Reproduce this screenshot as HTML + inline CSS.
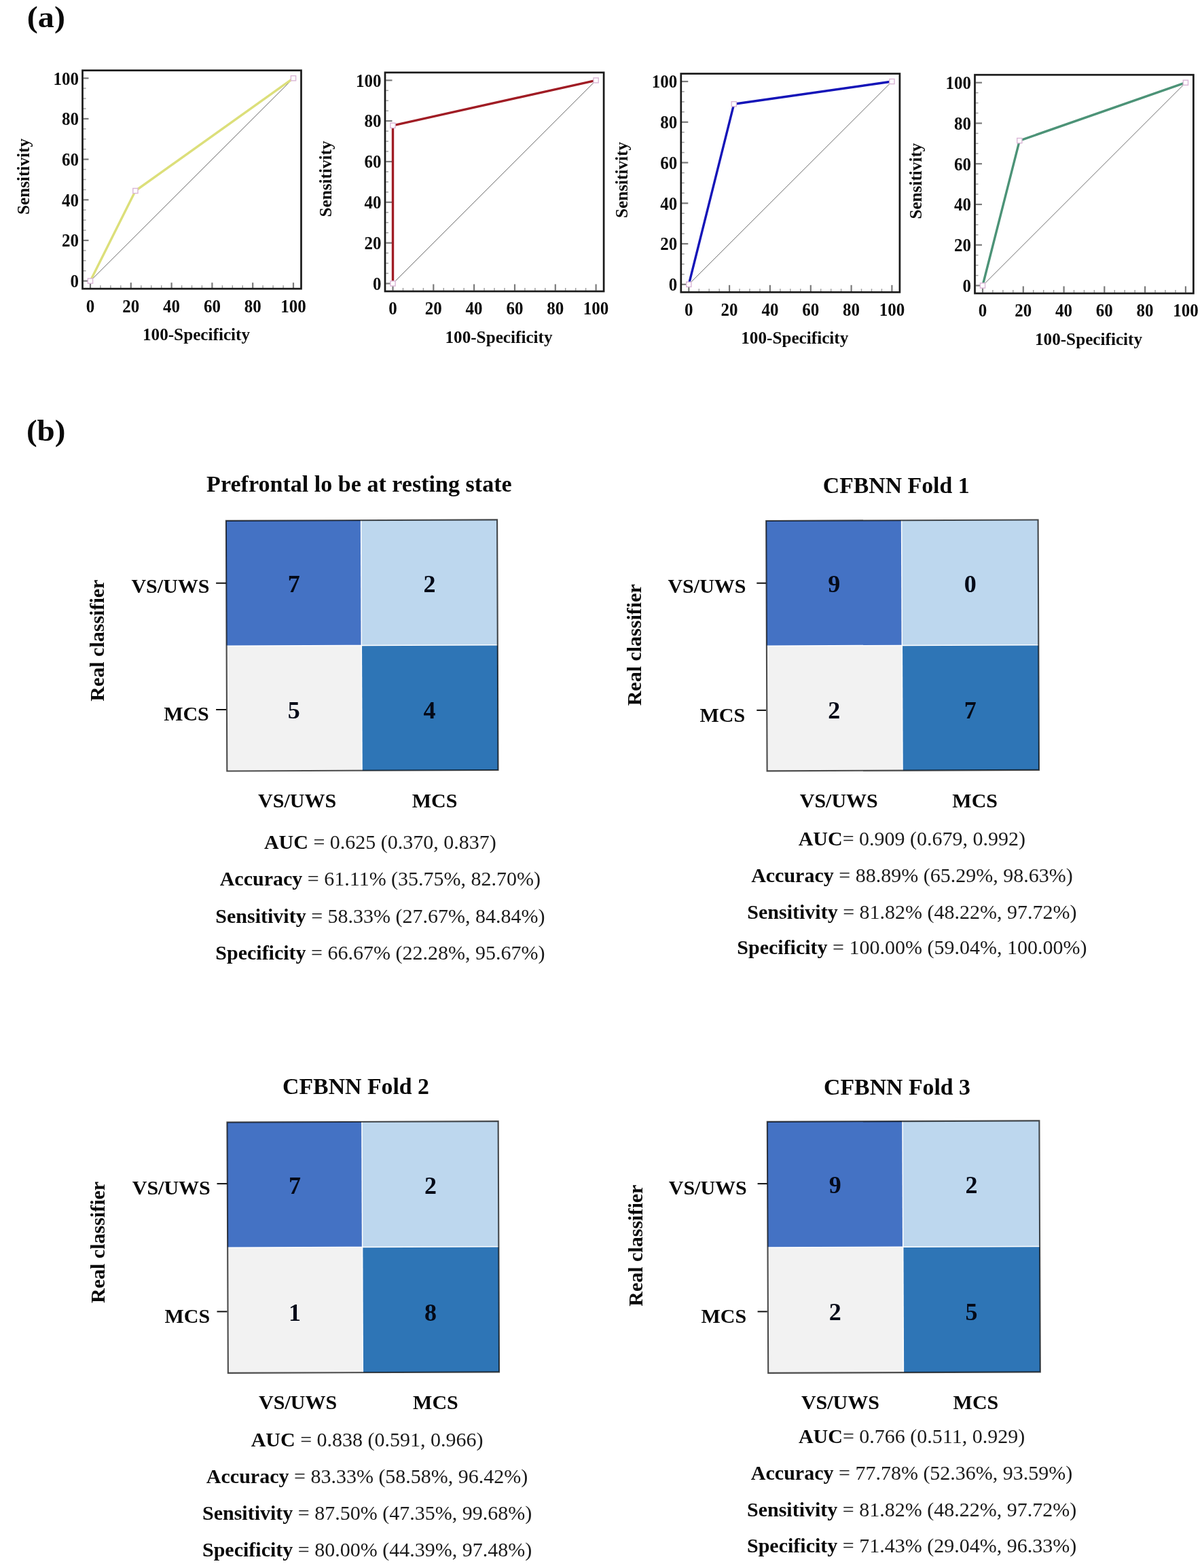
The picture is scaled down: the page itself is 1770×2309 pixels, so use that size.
<!DOCTYPE html>
<html><head><meta charset="utf-8"><title>Figure</title>
<style>
html,body{margin:0;padding:0;background:#fff;}
body{width:1770px;height:2309px;overflow:hidden;position:relative;}
svg{position:absolute;left:0;top:0;}
text{font-family:'Liberation Serif', 'Times New Roman', serif;fill:#0a0a0a;}
.tk{font-size:25px;font-weight:bold;}
.ax{font-size:25.2px;font-weight:bold;}
.num{font-size:36px;font-weight:bold;fill:#050a18;}
.lab{font-size:30px;font-weight:bold;}
.ttl{font-size:33.8px;font-weight:bold;}
.rc{font-size:30px;font-weight:bold;}
.st{font-size:30px;fill:#1a1a1a;}
.st tspan{fill:#0a0a0a;}
.pl{font-size:44px;font-weight:bold;}
</style></head>
<body>
<svg width="1770" height="2309" viewBox="0 0 1770 2309">
<text transform="translate(39.8,40) scale(1.095,1)" class="pl">(a)</text>
<text transform="translate(38.9,648.5) scale(1.07,1)" class="pl">(b)</text>
<line x1="147.9" y1="424.0" x2="147.9" y2="420.2" stroke="#a0a0a0" stroke-width="1.5"/>
<line x1="122.7" y1="398.8" x2="126.5" y2="398.8" stroke="#a0a0a0" stroke-width="1.5"/>
<line x1="162.9" y1="424.0" x2="162.9" y2="420.2" stroke="#a0a0a0" stroke-width="1.5"/>
<line x1="122.7" y1="383.8" x2="126.5" y2="383.8" stroke="#a0a0a0" stroke-width="1.5"/>
<line x1="177.8" y1="424.0" x2="177.8" y2="420.2" stroke="#a0a0a0" stroke-width="1.5"/>
<line x1="122.7" y1="368.9" x2="126.5" y2="368.9" stroke="#a0a0a0" stroke-width="1.5"/>
<line x1="207.8" y1="424.0" x2="207.8" y2="420.2" stroke="#a0a0a0" stroke-width="1.5"/>
<line x1="122.7" y1="339.1" x2="126.5" y2="339.1" stroke="#a0a0a0" stroke-width="1.5"/>
<line x1="222.7" y1="424.0" x2="222.7" y2="420.2" stroke="#a0a0a0" stroke-width="1.5"/>
<line x1="122.7" y1="324.1" x2="126.5" y2="324.1" stroke="#a0a0a0" stroke-width="1.5"/>
<line x1="237.7" y1="424.0" x2="237.7" y2="420.2" stroke="#a0a0a0" stroke-width="1.5"/>
<line x1="122.7" y1="309.2" x2="126.5" y2="309.2" stroke="#a0a0a0" stroke-width="1.5"/>
<line x1="267.6" y1="424.0" x2="267.6" y2="420.2" stroke="#a0a0a0" stroke-width="1.5"/>
<line x1="122.7" y1="279.4" x2="126.5" y2="279.4" stroke="#a0a0a0" stroke-width="1.5"/>
<line x1="282.5" y1="424.0" x2="282.5" y2="420.2" stroke="#a0a0a0" stroke-width="1.5"/>
<line x1="122.7" y1="264.4" x2="126.5" y2="264.4" stroke="#a0a0a0" stroke-width="1.5"/>
<line x1="297.4" y1="424.0" x2="297.4" y2="420.2" stroke="#a0a0a0" stroke-width="1.5"/>
<line x1="122.7" y1="249.5" x2="126.5" y2="249.5" stroke="#a0a0a0" stroke-width="1.5"/>
<line x1="327.4" y1="424.0" x2="327.4" y2="420.2" stroke="#a0a0a0" stroke-width="1.5"/>
<line x1="122.7" y1="219.7" x2="126.5" y2="219.7" stroke="#a0a0a0" stroke-width="1.5"/>
<line x1="342.3" y1="424.0" x2="342.3" y2="420.2" stroke="#a0a0a0" stroke-width="1.5"/>
<line x1="122.7" y1="204.8" x2="126.5" y2="204.8" stroke="#a0a0a0" stroke-width="1.5"/>
<line x1="357.2" y1="424.0" x2="357.2" y2="420.2" stroke="#a0a0a0" stroke-width="1.5"/>
<line x1="122.7" y1="189.8" x2="126.5" y2="189.8" stroke="#a0a0a0" stroke-width="1.5"/>
<line x1="387.1" y1="424.0" x2="387.1" y2="420.2" stroke="#a0a0a0" stroke-width="1.5"/>
<line x1="122.7" y1="160.0" x2="126.5" y2="160.0" stroke="#a0a0a0" stroke-width="1.5"/>
<line x1="402.1" y1="424.0" x2="402.1" y2="420.2" stroke="#a0a0a0" stroke-width="1.5"/>
<line x1="122.7" y1="145.1" x2="126.5" y2="145.1" stroke="#a0a0a0" stroke-width="1.5"/>
<line x1="417.1" y1="424.0" x2="417.1" y2="420.2" stroke="#a0a0a0" stroke-width="1.5"/>
<line x1="122.7" y1="130.1" x2="126.5" y2="130.1" stroke="#a0a0a0" stroke-width="1.5"/>
<line x1="133.0" y1="424.0" x2="133.0" y2="416.2" stroke="#7a7a7a" stroke-width="2.2"/>
<line x1="122.7" y1="413.7" x2="130.5" y2="413.7" stroke="#7a7a7a" stroke-width="2.2"/>
<text transform="translate(133.0,459.5) scale(1,1.05)" text-anchor="middle" class="tk">0</text>
<text transform="translate(115.9,423.0) scale(1,1.05)" text-anchor="end" class="tk">0</text>
<line x1="192.8" y1="424.0" x2="192.8" y2="416.2" stroke="#7a7a7a" stroke-width="2.2"/>
<line x1="122.7" y1="354.0" x2="130.5" y2="354.0" stroke="#7a7a7a" stroke-width="2.2"/>
<text transform="translate(192.8,459.5) scale(1,1.05)" text-anchor="middle" class="tk">20</text>
<text transform="translate(115.9,363.3) scale(1,1.05)" text-anchor="end" class="tk">20</text>
<line x1="252.6" y1="424.0" x2="252.6" y2="416.2" stroke="#7a7a7a" stroke-width="2.2"/>
<line x1="122.7" y1="294.3" x2="130.5" y2="294.3" stroke="#7a7a7a" stroke-width="2.2"/>
<text transform="translate(252.6,459.5) scale(1,1.05)" text-anchor="middle" class="tk">40</text>
<text transform="translate(115.9,303.6) scale(1,1.05)" text-anchor="end" class="tk">40</text>
<line x1="312.4" y1="424.0" x2="312.4" y2="416.2" stroke="#7a7a7a" stroke-width="2.2"/>
<line x1="122.7" y1="234.6" x2="130.5" y2="234.6" stroke="#7a7a7a" stroke-width="2.2"/>
<text transform="translate(312.4,459.5) scale(1,1.05)" text-anchor="middle" class="tk">60</text>
<text transform="translate(115.9,243.9) scale(1,1.05)" text-anchor="end" class="tk">60</text>
<line x1="372.2" y1="424.0" x2="372.2" y2="416.2" stroke="#7a7a7a" stroke-width="2.2"/>
<line x1="122.7" y1="174.9" x2="130.5" y2="174.9" stroke="#7a7a7a" stroke-width="2.2"/>
<text transform="translate(372.2,459.5) scale(1,1.05)" text-anchor="middle" class="tk">80</text>
<text transform="translate(115.9,184.2) scale(1,1.05)" text-anchor="end" class="tk">80</text>
<line x1="432.0" y1="424.0" x2="432.0" y2="416.2" stroke="#7a7a7a" stroke-width="2.2"/>
<line x1="122.7" y1="115.2" x2="130.5" y2="115.2" stroke="#7a7a7a" stroke-width="2.2"/>
<text transform="translate(432.0,459.5) scale(1,1.05)" text-anchor="middle" class="tk">100</text>
<text transform="translate(115.9,124.5) scale(1,1.05)" text-anchor="end" class="tk">100</text>
<line x1="133.0" y1="413.7" x2="432.0" y2="115.2" stroke="#6a6a6a" stroke-width="1"/>
<polyline points="133.0,413.7 199.4,281.0 432.0,115.2" fill="none" stroke="#dcdf7a" stroke-width="3.4" stroke-linejoin="round"/>
<rect x="129.4" y="410.1" width="7.2" height="7.2" fill="#fff" stroke="#dab6d6" stroke-width="1.4"/>
<rect x="195.8" y="277.4" width="7.2" height="7.2" fill="#fff" stroke="#dab6d6" stroke-width="1.4"/>
<rect x="428.4" y="111.6" width="7.2" height="7.2" fill="#fff" stroke="#dab6d6" stroke-width="1.4"/>
<rect x="121.5" y="103.7" width="322.0" height="321.5" fill="none" stroke="#1a1a1a" stroke-width="2.7"/>
<text x="289.0" y="500.7" text-anchor="middle" class="ax">100-Specificity</text>
<text transform="translate(42.5,259.9) rotate(-90)" text-anchor="middle" class="ax">Sensitivity</text>
<line x1="593.5" y1="427.8" x2="593.5" y2="424.0" stroke="#a0a0a0" stroke-width="1.5"/>
<line x1="568.2" y1="402.5" x2="572.0" y2="402.5" stroke="#a0a0a0" stroke-width="1.5"/>
<line x1="608.4" y1="427.8" x2="608.4" y2="424.0" stroke="#a0a0a0" stroke-width="1.5"/>
<line x1="568.2" y1="387.6" x2="572.0" y2="387.6" stroke="#a0a0a0" stroke-width="1.5"/>
<line x1="623.4" y1="427.8" x2="623.4" y2="424.0" stroke="#a0a0a0" stroke-width="1.5"/>
<line x1="568.2" y1="372.6" x2="572.0" y2="372.6" stroke="#a0a0a0" stroke-width="1.5"/>
<line x1="653.3" y1="427.8" x2="653.3" y2="424.0" stroke="#a0a0a0" stroke-width="1.5"/>
<line x1="568.2" y1="342.7" x2="572.0" y2="342.7" stroke="#a0a0a0" stroke-width="1.5"/>
<line x1="668.2" y1="427.8" x2="668.2" y2="424.0" stroke="#a0a0a0" stroke-width="1.5"/>
<line x1="568.2" y1="327.7" x2="572.0" y2="327.7" stroke="#a0a0a0" stroke-width="1.5"/>
<line x1="683.2" y1="427.8" x2="683.2" y2="424.0" stroke="#a0a0a0" stroke-width="1.5"/>
<line x1="568.2" y1="312.8" x2="572.0" y2="312.8" stroke="#a0a0a0" stroke-width="1.5"/>
<line x1="713.1" y1="427.8" x2="713.1" y2="424.0" stroke="#a0a0a0" stroke-width="1.5"/>
<line x1="568.2" y1="282.9" x2="572.0" y2="282.9" stroke="#a0a0a0" stroke-width="1.5"/>
<line x1="728.0" y1="427.8" x2="728.0" y2="424.0" stroke="#a0a0a0" stroke-width="1.5"/>
<line x1="568.2" y1="267.9" x2="572.0" y2="267.9" stroke="#a0a0a0" stroke-width="1.5"/>
<line x1="743.0" y1="427.8" x2="743.0" y2="424.0" stroke="#a0a0a0" stroke-width="1.5"/>
<line x1="568.2" y1="252.9" x2="572.0" y2="252.9" stroke="#a0a0a0" stroke-width="1.5"/>
<line x1="772.9" y1="427.8" x2="772.9" y2="424.0" stroke="#a0a0a0" stroke-width="1.5"/>
<line x1="568.2" y1="223.0" x2="572.0" y2="223.0" stroke="#a0a0a0" stroke-width="1.5"/>
<line x1="787.9" y1="427.8" x2="787.9" y2="424.0" stroke="#a0a0a0" stroke-width="1.5"/>
<line x1="568.2" y1="208.1" x2="572.0" y2="208.1" stroke="#a0a0a0" stroke-width="1.5"/>
<line x1="802.8" y1="427.8" x2="802.8" y2="424.0" stroke="#a0a0a0" stroke-width="1.5"/>
<line x1="568.2" y1="193.1" x2="572.0" y2="193.1" stroke="#a0a0a0" stroke-width="1.5"/>
<line x1="832.7" y1="427.8" x2="832.7" y2="424.0" stroke="#a0a0a0" stroke-width="1.5"/>
<line x1="568.2" y1="163.2" x2="572.0" y2="163.2" stroke="#a0a0a0" stroke-width="1.5"/>
<line x1="847.7" y1="427.8" x2="847.7" y2="424.0" stroke="#a0a0a0" stroke-width="1.5"/>
<line x1="568.2" y1="148.2" x2="572.0" y2="148.2" stroke="#a0a0a0" stroke-width="1.5"/>
<line x1="862.6" y1="427.8" x2="862.6" y2="424.0" stroke="#a0a0a0" stroke-width="1.5"/>
<line x1="568.2" y1="133.3" x2="572.0" y2="133.3" stroke="#a0a0a0" stroke-width="1.5"/>
<line x1="578.5" y1="427.8" x2="578.5" y2="418.5" stroke="#7a7a7a" stroke-width="2.2"/>
<line x1="568.2" y1="417.5" x2="577.5" y2="417.5" stroke="#7a7a7a" stroke-width="2.2"/>
<text transform="translate(578.5,463.3) scale(1,1.05)" text-anchor="middle" class="tk">0</text>
<text transform="translate(561.4,426.8) scale(1,1.05)" text-anchor="end" class="tk">0</text>
<line x1="638.3" y1="427.8" x2="638.3" y2="418.5" stroke="#7a7a7a" stroke-width="2.2"/>
<line x1="568.2" y1="357.7" x2="577.5" y2="357.7" stroke="#7a7a7a" stroke-width="2.2"/>
<text transform="translate(638.3,463.3) scale(1,1.05)" text-anchor="middle" class="tk">20</text>
<text transform="translate(561.4,367.0) scale(1,1.05)" text-anchor="end" class="tk">20</text>
<line x1="698.1" y1="427.8" x2="698.1" y2="418.5" stroke="#7a7a7a" stroke-width="2.2"/>
<line x1="568.2" y1="297.8" x2="577.5" y2="297.8" stroke="#7a7a7a" stroke-width="2.2"/>
<text transform="translate(698.1,463.3) scale(1,1.05)" text-anchor="middle" class="tk">40</text>
<text transform="translate(561.4,307.1) scale(1,1.05)" text-anchor="end" class="tk">40</text>
<line x1="758.0" y1="427.8" x2="758.0" y2="418.5" stroke="#7a7a7a" stroke-width="2.2"/>
<line x1="568.2" y1="238.0" x2="577.5" y2="238.0" stroke="#7a7a7a" stroke-width="2.2"/>
<text transform="translate(758.0,463.3) scale(1,1.05)" text-anchor="middle" class="tk">60</text>
<text transform="translate(561.4,247.3) scale(1,1.05)" text-anchor="end" class="tk">60</text>
<line x1="817.8" y1="427.8" x2="817.8" y2="418.5" stroke="#7a7a7a" stroke-width="2.2"/>
<line x1="568.2" y1="178.1" x2="577.5" y2="178.1" stroke="#7a7a7a" stroke-width="2.2"/>
<text transform="translate(817.8,463.3) scale(1,1.05)" text-anchor="middle" class="tk">80</text>
<text transform="translate(561.4,187.4) scale(1,1.05)" text-anchor="end" class="tk">80</text>
<line x1="877.6" y1="427.8" x2="877.6" y2="418.5" stroke="#7a7a7a" stroke-width="2.2"/>
<line x1="568.2" y1="118.3" x2="577.5" y2="118.3" stroke="#7a7a7a" stroke-width="2.2"/>
<text transform="translate(877.6,463.3) scale(1,1.05)" text-anchor="middle" class="tk">100</text>
<text transform="translate(561.4,127.6) scale(1,1.05)" text-anchor="end" class="tk">100</text>
<line x1="578.5" y1="417.5" x2="877.6" y2="118.3" stroke="#6a6a6a" stroke-width="1"/>
<polyline points="578.5,417.5 578.5,184.8 877.6,118.3" fill="none" stroke="#a01c24" stroke-width="3.4" stroke-linejoin="round"/>
<rect x="574.9" y="413.9" width="7.2" height="7.2" fill="#fff" stroke="#dab6d6" stroke-width="1.4"/>
<rect x="574.9" y="181.2" width="7.2" height="7.2" fill="#fff" stroke="#dab6d6" stroke-width="1.4"/>
<rect x="874.0" y="114.7" width="7.2" height="7.2" fill="#fff" stroke="#dab6d6" stroke-width="1.4"/>
<rect x="567.0" y="106.8" width="322.1" height="322.2" fill="none" stroke="#1a1a1a" stroke-width="2.7"/>
<text x="734.5" y="504.5" text-anchor="middle" class="ax">100-Specificity</text>
<text transform="translate(488.0,263.4) rotate(-90)" text-anchor="middle" class="ax">Sensitivity</text>
<line x1="1029.3" y1="429.1" x2="1029.3" y2="425.3" stroke="#a0a0a0" stroke-width="1.5"/>
<line x1="1004.0" y1="403.9" x2="1007.8" y2="403.9" stroke="#a0a0a0" stroke-width="1.5"/>
<line x1="1044.2" y1="429.1" x2="1044.2" y2="425.3" stroke="#a0a0a0" stroke-width="1.5"/>
<line x1="1004.0" y1="388.9" x2="1007.8" y2="388.9" stroke="#a0a0a0" stroke-width="1.5"/>
<line x1="1059.2" y1="429.1" x2="1059.2" y2="425.3" stroke="#a0a0a0" stroke-width="1.5"/>
<line x1="1004.0" y1="374.0" x2="1007.8" y2="374.0" stroke="#a0a0a0" stroke-width="1.5"/>
<line x1="1089.1" y1="429.1" x2="1089.1" y2="425.3" stroke="#a0a0a0" stroke-width="1.5"/>
<line x1="1004.0" y1="344.1" x2="1007.8" y2="344.1" stroke="#a0a0a0" stroke-width="1.5"/>
<line x1="1104.0" y1="429.1" x2="1104.0" y2="425.3" stroke="#a0a0a0" stroke-width="1.5"/>
<line x1="1004.0" y1="329.2" x2="1007.8" y2="329.2" stroke="#a0a0a0" stroke-width="1.5"/>
<line x1="1119.0" y1="429.1" x2="1119.0" y2="425.3" stroke="#a0a0a0" stroke-width="1.5"/>
<line x1="1004.0" y1="314.2" x2="1007.8" y2="314.2" stroke="#a0a0a0" stroke-width="1.5"/>
<line x1="1148.9" y1="429.1" x2="1148.9" y2="425.3" stroke="#a0a0a0" stroke-width="1.5"/>
<line x1="1004.0" y1="284.3" x2="1007.8" y2="284.3" stroke="#a0a0a0" stroke-width="1.5"/>
<line x1="1163.8" y1="429.1" x2="1163.8" y2="425.3" stroke="#a0a0a0" stroke-width="1.5"/>
<line x1="1004.0" y1="269.4" x2="1007.8" y2="269.4" stroke="#a0a0a0" stroke-width="1.5"/>
<line x1="1178.8" y1="429.1" x2="1178.8" y2="425.3" stroke="#a0a0a0" stroke-width="1.5"/>
<line x1="1004.0" y1="254.5" x2="1007.8" y2="254.5" stroke="#a0a0a0" stroke-width="1.5"/>
<line x1="1208.7" y1="429.1" x2="1208.7" y2="425.3" stroke="#a0a0a0" stroke-width="1.5"/>
<line x1="1004.0" y1="224.6" x2="1007.8" y2="224.6" stroke="#a0a0a0" stroke-width="1.5"/>
<line x1="1223.7" y1="429.1" x2="1223.7" y2="425.3" stroke="#a0a0a0" stroke-width="1.5"/>
<line x1="1004.0" y1="209.6" x2="1007.8" y2="209.6" stroke="#a0a0a0" stroke-width="1.5"/>
<line x1="1238.6" y1="429.1" x2="1238.6" y2="425.3" stroke="#a0a0a0" stroke-width="1.5"/>
<line x1="1004.0" y1="194.7" x2="1007.8" y2="194.7" stroke="#a0a0a0" stroke-width="1.5"/>
<line x1="1268.5" y1="429.1" x2="1268.5" y2="425.3" stroke="#a0a0a0" stroke-width="1.5"/>
<line x1="1004.0" y1="164.8" x2="1007.8" y2="164.8" stroke="#a0a0a0" stroke-width="1.5"/>
<line x1="1283.5" y1="429.1" x2="1283.5" y2="425.3" stroke="#a0a0a0" stroke-width="1.5"/>
<line x1="1004.0" y1="149.9" x2="1007.8" y2="149.9" stroke="#a0a0a0" stroke-width="1.5"/>
<line x1="1298.4" y1="429.1" x2="1298.4" y2="425.3" stroke="#a0a0a0" stroke-width="1.5"/>
<line x1="1004.0" y1="134.9" x2="1007.8" y2="134.9" stroke="#a0a0a0" stroke-width="1.5"/>
<line x1="1014.3" y1="429.1" x2="1014.3" y2="419.8" stroke="#7a7a7a" stroke-width="2.2"/>
<line x1="1004.0" y1="418.8" x2="1013.3" y2="418.8" stroke="#7a7a7a" stroke-width="2.2"/>
<text transform="translate(1014.3,464.6) scale(1,1.05)" text-anchor="middle" class="tk">0</text>
<text transform="translate(997.2,428.1) scale(1,1.05)" text-anchor="end" class="tk">0</text>
<line x1="1074.1" y1="429.1" x2="1074.1" y2="419.8" stroke="#7a7a7a" stroke-width="2.2"/>
<line x1="1004.0" y1="359.0" x2="1013.3" y2="359.0" stroke="#7a7a7a" stroke-width="2.2"/>
<text transform="translate(1074.1,464.6) scale(1,1.05)" text-anchor="middle" class="tk">20</text>
<text transform="translate(997.2,368.3) scale(1,1.05)" text-anchor="end" class="tk">20</text>
<line x1="1133.9" y1="429.1" x2="1133.9" y2="419.8" stroke="#7a7a7a" stroke-width="2.2"/>
<line x1="1004.0" y1="299.3" x2="1013.3" y2="299.3" stroke="#7a7a7a" stroke-width="2.2"/>
<text transform="translate(1133.9,464.6) scale(1,1.05)" text-anchor="middle" class="tk">40</text>
<text transform="translate(997.2,308.6) scale(1,1.05)" text-anchor="end" class="tk">40</text>
<line x1="1193.8" y1="429.1" x2="1193.8" y2="419.8" stroke="#7a7a7a" stroke-width="2.2"/>
<line x1="1004.0" y1="239.5" x2="1013.3" y2="239.5" stroke="#7a7a7a" stroke-width="2.2"/>
<text transform="translate(1193.8,464.6) scale(1,1.05)" text-anchor="middle" class="tk">60</text>
<text transform="translate(997.2,248.8) scale(1,1.05)" text-anchor="end" class="tk">60</text>
<line x1="1253.6" y1="429.1" x2="1253.6" y2="419.8" stroke="#7a7a7a" stroke-width="2.2"/>
<line x1="1004.0" y1="179.8" x2="1013.3" y2="179.8" stroke="#7a7a7a" stroke-width="2.2"/>
<text transform="translate(1253.6,464.6) scale(1,1.05)" text-anchor="middle" class="tk">80</text>
<text transform="translate(997.2,189.1) scale(1,1.05)" text-anchor="end" class="tk">80</text>
<line x1="1313.4" y1="429.1" x2="1313.4" y2="419.8" stroke="#7a7a7a" stroke-width="2.2"/>
<line x1="1004.0" y1="120.0" x2="1013.3" y2="120.0" stroke="#7a7a7a" stroke-width="2.2"/>
<text transform="translate(1313.4,464.6) scale(1,1.05)" text-anchor="middle" class="tk">100</text>
<text transform="translate(997.2,129.3) scale(1,1.05)" text-anchor="end" class="tk">100</text>
<line x1="1014.3" y1="418.8" x2="1313.4" y2="120.0" stroke="#6a6a6a" stroke-width="1"/>
<polyline points="1014.3,418.8 1080.8,153.2 1313.4,120.0" fill="none" stroke="#1414b8" stroke-width="3.4" stroke-linejoin="round"/>
<rect x="1010.7" y="415.2" width="7.2" height="7.2" fill="#fff" stroke="#dab6d6" stroke-width="1.4"/>
<rect x="1077.2" y="149.6" width="7.2" height="7.2" fill="#fff" stroke="#dab6d6" stroke-width="1.4"/>
<rect x="1309.8" y="116.4" width="7.2" height="7.2" fill="#fff" stroke="#dab6d6" stroke-width="1.4"/>
<rect x="1002.8" y="108.5" width="322.1" height="321.8" fill="none" stroke="#1a1a1a" stroke-width="2.7"/>
<text x="1170.3" y="505.8" text-anchor="middle" class="ax">100-Specificity</text>
<text transform="translate(923.8,264.9) rotate(-90)" text-anchor="middle" class="ax">Sensitivity</text>
<line x1="1461.9" y1="430.8" x2="1461.9" y2="427.0" stroke="#a0a0a0" stroke-width="1.5"/>
<line x1="1436.7" y1="405.6" x2="1440.5" y2="405.6" stroke="#a0a0a0" stroke-width="1.5"/>
<line x1="1476.9" y1="430.8" x2="1476.9" y2="427.0" stroke="#a0a0a0" stroke-width="1.5"/>
<line x1="1436.7" y1="390.6" x2="1440.5" y2="390.6" stroke="#a0a0a0" stroke-width="1.5"/>
<line x1="1491.8" y1="430.8" x2="1491.8" y2="427.0" stroke="#a0a0a0" stroke-width="1.5"/>
<line x1="1436.7" y1="375.7" x2="1440.5" y2="375.7" stroke="#a0a0a0" stroke-width="1.5"/>
<line x1="1521.7" y1="430.8" x2="1521.7" y2="427.0" stroke="#a0a0a0" stroke-width="1.5"/>
<line x1="1436.7" y1="345.8" x2="1440.5" y2="345.8" stroke="#a0a0a0" stroke-width="1.5"/>
<line x1="1536.7" y1="430.8" x2="1536.7" y2="427.0" stroke="#a0a0a0" stroke-width="1.5"/>
<line x1="1436.7" y1="330.9" x2="1440.5" y2="330.9" stroke="#a0a0a0" stroke-width="1.5"/>
<line x1="1551.6" y1="430.8" x2="1551.6" y2="427.0" stroke="#a0a0a0" stroke-width="1.5"/>
<line x1="1436.7" y1="315.9" x2="1440.5" y2="315.9" stroke="#a0a0a0" stroke-width="1.5"/>
<line x1="1581.5" y1="430.8" x2="1581.5" y2="427.0" stroke="#a0a0a0" stroke-width="1.5"/>
<line x1="1436.7" y1="286.0" x2="1440.5" y2="286.0" stroke="#a0a0a0" stroke-width="1.5"/>
<line x1="1596.5" y1="430.8" x2="1596.5" y2="427.0" stroke="#a0a0a0" stroke-width="1.5"/>
<line x1="1436.7" y1="271.1" x2="1440.5" y2="271.1" stroke="#a0a0a0" stroke-width="1.5"/>
<line x1="1611.4" y1="430.8" x2="1611.4" y2="427.0" stroke="#a0a0a0" stroke-width="1.5"/>
<line x1="1436.7" y1="256.2" x2="1440.5" y2="256.2" stroke="#a0a0a0" stroke-width="1.5"/>
<line x1="1641.3" y1="430.8" x2="1641.3" y2="427.0" stroke="#a0a0a0" stroke-width="1.5"/>
<line x1="1436.7" y1="226.3" x2="1440.5" y2="226.3" stroke="#a0a0a0" stroke-width="1.5"/>
<line x1="1656.2" y1="430.8" x2="1656.2" y2="427.0" stroke="#a0a0a0" stroke-width="1.5"/>
<line x1="1436.7" y1="211.3" x2="1440.5" y2="211.3" stroke="#a0a0a0" stroke-width="1.5"/>
<line x1="1671.2" y1="430.8" x2="1671.2" y2="427.0" stroke="#a0a0a0" stroke-width="1.5"/>
<line x1="1436.7" y1="196.4" x2="1440.5" y2="196.4" stroke="#a0a0a0" stroke-width="1.5"/>
<line x1="1701.1" y1="430.8" x2="1701.1" y2="427.0" stroke="#a0a0a0" stroke-width="1.5"/>
<line x1="1436.7" y1="166.5" x2="1440.5" y2="166.5" stroke="#a0a0a0" stroke-width="1.5"/>
<line x1="1716.0" y1="430.8" x2="1716.0" y2="427.0" stroke="#a0a0a0" stroke-width="1.5"/>
<line x1="1436.7" y1="151.6" x2="1440.5" y2="151.6" stroke="#a0a0a0" stroke-width="1.5"/>
<line x1="1731.0" y1="430.8" x2="1731.0" y2="427.0" stroke="#a0a0a0" stroke-width="1.5"/>
<line x1="1436.7" y1="136.6" x2="1440.5" y2="136.6" stroke="#a0a0a0" stroke-width="1.5"/>
<line x1="1447.0" y1="430.8" x2="1447.0" y2="421.5" stroke="#7a7a7a" stroke-width="2.2"/>
<line x1="1436.7" y1="420.5" x2="1446.0" y2="420.5" stroke="#7a7a7a" stroke-width="2.2"/>
<text transform="translate(1447.0,466.3) scale(1,1.05)" text-anchor="middle" class="tk">0</text>
<text transform="translate(1429.9,429.8) scale(1,1.05)" text-anchor="end" class="tk">0</text>
<line x1="1506.8" y1="430.8" x2="1506.8" y2="421.5" stroke="#7a7a7a" stroke-width="2.2"/>
<line x1="1436.7" y1="360.7" x2="1446.0" y2="360.7" stroke="#7a7a7a" stroke-width="2.2"/>
<text transform="translate(1506.8,466.3) scale(1,1.05)" text-anchor="middle" class="tk">20</text>
<text transform="translate(1429.9,370.0) scale(1,1.05)" text-anchor="end" class="tk">20</text>
<line x1="1566.6" y1="430.8" x2="1566.6" y2="421.5" stroke="#7a7a7a" stroke-width="2.2"/>
<line x1="1436.7" y1="301.0" x2="1446.0" y2="301.0" stroke="#7a7a7a" stroke-width="2.2"/>
<text transform="translate(1566.6,466.3) scale(1,1.05)" text-anchor="middle" class="tk">40</text>
<text transform="translate(1429.9,310.3) scale(1,1.05)" text-anchor="end" class="tk">40</text>
<line x1="1626.3" y1="430.8" x2="1626.3" y2="421.5" stroke="#7a7a7a" stroke-width="2.2"/>
<line x1="1436.7" y1="241.2" x2="1446.0" y2="241.2" stroke="#7a7a7a" stroke-width="2.2"/>
<text transform="translate(1626.3,466.3) scale(1,1.05)" text-anchor="middle" class="tk">60</text>
<text transform="translate(1429.9,250.5) scale(1,1.05)" text-anchor="end" class="tk">60</text>
<line x1="1686.1" y1="430.8" x2="1686.1" y2="421.5" stroke="#7a7a7a" stroke-width="2.2"/>
<line x1="1436.7" y1="181.5" x2="1446.0" y2="181.5" stroke="#7a7a7a" stroke-width="2.2"/>
<text transform="translate(1686.1,466.3) scale(1,1.05)" text-anchor="middle" class="tk">80</text>
<text transform="translate(1429.9,190.8) scale(1,1.05)" text-anchor="end" class="tk">80</text>
<line x1="1745.9" y1="430.8" x2="1745.9" y2="421.5" stroke="#7a7a7a" stroke-width="2.2"/>
<line x1="1436.7" y1="121.7" x2="1446.0" y2="121.7" stroke="#7a7a7a" stroke-width="2.2"/>
<text transform="translate(1745.9,466.3) scale(1,1.05)" text-anchor="middle" class="tk">100</text>
<text transform="translate(1429.9,131.0) scale(1,1.05)" text-anchor="end" class="tk">100</text>
<line x1="1447.0" y1="420.5" x2="1745.9" y2="121.7" stroke="#6a6a6a" stroke-width="1"/>
<polyline points="1447.0,420.5 1501.3,207.1 1745.9,121.7" fill="none" stroke="#4c9377" stroke-width="3.4" stroke-linejoin="round"/>
<rect x="1443.4" y="416.9" width="7.2" height="7.2" fill="#fff" stroke="#dab6d6" stroke-width="1.4"/>
<rect x="1497.7" y="203.5" width="7.2" height="7.2" fill="#fff" stroke="#dab6d6" stroke-width="1.4"/>
<rect x="1742.3" y="118.1" width="7.2" height="7.2" fill="#fff" stroke="#dab6d6" stroke-width="1.4"/>
<rect x="1435.5" y="110.2" width="321.9" height="321.8" fill="none" stroke="#1a1a1a" stroke-width="2.7"/>
<text x="1603.0" y="507.5" text-anchor="middle" class="ax">100-Specificity</text>
<text transform="translate(1356.5,266.6) rotate(-90)" text-anchor="middle" class="ax">Sensitivity</text>
<g transform="rotate(-0.22 533.20 950.40)">
<rect x="333.60" y="766.10" width="197.95" height="183.55" fill="#4472c4"/>
<rect x="533.05" y="766.10" width="199.75" height="183.55" fill="#bdd7ee"/>
<rect x="333.60" y="951.15" width="197.95" height="183.55" fill="#f2f2f2"/>
<rect x="533.05" y="951.15" width="199.75" height="183.55" fill="#2e75b6"/>
<rect x="333.60" y="766.10" width="399.20" height="368.60" fill="none" stroke="#000" stroke-opacity="0.7" stroke-width="2.1"/>
</g>
<text x="432.7" y="871.8" text-anchor="middle" class="num">7</text>
<text x="632.6" y="871.8" text-anchor="middle" class="num">2</text>
<text x="432.7" y="1058.2" text-anchor="middle" class="num">5</text>
<text x="632.6" y="1058.2" text-anchor="middle" class="num">4</text>
<line x1="318.1" y1="858.7" x2="333.0" y2="858.7" stroke="#111" stroke-width="2"/>
<text x="308.5" y="872.7" text-anchor="end" class="lab">VS/UWS</text>
<line x1="318.1" y1="1045.0" x2="333.0" y2="1045.0" stroke="#111" stroke-width="2"/>
<text x="307.8" y="1061.0" text-anchor="end" class="lab">MCS</text>
<text x="437.6" y="1188.8" text-anchor="middle" class="lab">VS/UWS</text>
<text x="640.0" y="1188.8" text-anchor="middle" class="lab">MCS</text>
<text x="528.9" y="724.3" text-anchor="middle" class="ttl" style="font-size:34.1px">Prefrontal lo be at resting state</text>
<text transform="translate(153.1,943.2) rotate(-90)" text-anchor="middle" class="rc">Real classifier</text>
<text x="559.9" y="1250.0" text-anchor="middle" class="st"><tspan font-weight="bold">AUC</tspan> = 0.625 (0.370, 0.837)</text>
<text x="559.9" y="1304.1" text-anchor="middle" class="st"><tspan font-weight="bold">Accuracy</tspan> = 61.11% (35.75%, 82.70%)</text>
<text x="559.9" y="1358.8" text-anchor="middle" class="st"><tspan font-weight="bold">Sensitivity</tspan> = 58.33% (27.67%, 84.84%)</text>
<text x="559.9" y="1412.9" text-anchor="middle" class="st"><tspan font-weight="bold">Specificity</tspan> = 66.67% (22.28%, 95.67%)</text>
<g transform="rotate(-0.22 1329.10 950.40)">
<rect x="1128.90" y="766.20" width="198.65" height="183.45" fill="#4472c4"/>
<rect x="1329.05" y="766.20" width="200.25" height="183.45" fill="#bdd7ee"/>
<rect x="1128.90" y="951.15" width="198.65" height="183.45" fill="#f2f2f2"/>
<rect x="1329.05" y="951.15" width="200.25" height="183.45" fill="#2e75b6"/>
<rect x="1128.90" y="766.20" width="400.40" height="368.40" fill="none" stroke="#000" stroke-opacity="0.7" stroke-width="2.1"/>
</g>
<text x="1228.2" y="871.8" text-anchor="middle" class="num">9</text>
<text x="1428.8" y="871.8" text-anchor="middle" class="num">0</text>
<text x="1228.2" y="1058.2" text-anchor="middle" class="num">2</text>
<text x="1428.8" y="1058.2" text-anchor="middle" class="num">7</text>
<line x1="1114.3" y1="858.7" x2="1128.0" y2="858.7" stroke="#111" stroke-width="2"/>
<text x="1098.5" y="872.7" text-anchor="end" class="lab">VS/UWS</text>
<line x1="1114.3" y1="1045.9" x2="1128.0" y2="1045.9" stroke="#111" stroke-width="2"/>
<text x="1097.1" y="1063.0" text-anchor="end" class="lab">MCS</text>
<text x="1235.3" y="1189.0" text-anchor="middle" class="lab">VS/UWS</text>
<text x="1435.7" y="1189.0" text-anchor="middle" class="lab">MCS</text>
<text x="1319.7" y="725.7" text-anchor="middle" class="ttl">CFBNN Fold 1</text>
<text transform="translate(943.8,949.8) rotate(-90)" text-anchor="middle" class="rc">Real classifier</text>
<text x="1342.9" y="1245.0" text-anchor="middle" class="st"><tspan font-weight="bold">AUC</tspan>= 0.909 (0.679, 0.992)</text>
<text x="1342.9" y="1299.1" text-anchor="middle" class="st"><tspan font-weight="bold">Accuracy</tspan> = 88.89% (65.29%, 98.63%)</text>
<text x="1342.9" y="1353.2" text-anchor="middle" class="st"><tspan font-weight="bold">Sensitivity</tspan> = 81.82% (48.22%, 97.72%)</text>
<text x="1342.9" y="1404.9" text-anchor="middle" class="st"><tspan font-weight="bold">Specificity</tspan> = 100.00% (59.04%, 100.00%)</text>
<g transform="rotate(-0.22 534.75 1836.50)">
<rect x="335.15" y="1651.90" width="197.70" height="183.85" fill="#4472c4"/>
<rect x="534.35" y="1651.90" width="200.00" height="183.85" fill="#bdd7ee"/>
<rect x="335.15" y="1837.25" width="197.70" height="183.85" fill="#f2f2f2"/>
<rect x="534.35" y="1837.25" width="200.00" height="183.85" fill="#2e75b6"/>
<rect x="335.15" y="1651.90" width="399.20" height="369.20" fill="none" stroke="#000" stroke-opacity="0.7" stroke-width="2.1"/>
</g>
<text x="434.1" y="1757.7" text-anchor="middle" class="num">7</text>
<text x="634.0" y="1757.7" text-anchor="middle" class="num">2</text>
<text x="434.1" y="1944.5" text-anchor="middle" class="num">1</text>
<text x="634.0" y="1944.5" text-anchor="middle" class="num">8</text>
<line x1="319.5" y1="1743.1" x2="334.5" y2="1743.1" stroke="#111" stroke-width="2"/>
<text x="309.8" y="1758.9" text-anchor="end" class="lab">VS/UWS</text>
<line x1="319.5" y1="1931.4" x2="334.5" y2="1931.4" stroke="#111" stroke-width="2"/>
<text x="309.1" y="1947.8" text-anchor="end" class="lab">MCS</text>
<text x="438.6" y="2074.6" text-anchor="middle" class="lab">VS/UWS</text>
<text x="641.4" y="2074.6" text-anchor="middle" class="lab">MCS</text>
<text x="524.0" y="1610.7" text-anchor="middle" class="ttl">CFBNN Fold 2</text>
<text transform="translate(153.8,1829.4) rotate(-90)" text-anchor="middle" class="rc">Real classifier</text>
<text x="540.6" y="2130.0" text-anchor="middle" class="st"><tspan font-weight="bold">AUC</tspan> = 0.838 (0.591, 0.966)</text>
<text x="540.6" y="2184.1" text-anchor="middle" class="st"><tspan font-weight="bold">Accuracy</tspan> = 83.33% (58.58%, 96.42%)</text>
<text x="540.6" y="2238.2" text-anchor="middle" class="st"><tspan font-weight="bold">Sensitivity</tspan> = 87.50% (47.35%, 99.68%)</text>
<text x="540.6" y="2292.3" text-anchor="middle" class="st"><tspan font-weight="bold">Specificity</tspan> = 80.00% (44.39%, 97.48%)</text>
<g transform="rotate(-0.22 1330.80 1836.10)">
<rect x="1130.50" y="1651.10" width="198.45" height="184.45" fill="#4472c4"/>
<rect x="1330.45" y="1651.10" width="200.65" height="184.45" fill="#bdd7ee"/>
<rect x="1130.50" y="1837.05" width="198.45" height="184.05" fill="#f2f2f2"/>
<rect x="1330.45" y="1837.05" width="200.65" height="184.05" fill="#2e75b6"/>
<rect x="1130.50" y="1651.10" width="400.60" height="370.00" fill="none" stroke="#000" stroke-opacity="0.7" stroke-width="2.1"/>
</g>
<text x="1229.8" y="1757.2" text-anchor="middle" class="num">9</text>
<text x="1430.4" y="1757.2" text-anchor="middle" class="num">2</text>
<text x="1229.8" y="1944.4" text-anchor="middle" class="num">2</text>
<text x="1430.4" y="1944.4" text-anchor="middle" class="num">5</text>
<line x1="1115.6" y1="1743.1" x2="1129.8" y2="1743.1" stroke="#111" stroke-width="2"/>
<text x="1099.8" y="1759.1" text-anchor="end" class="lab">VS/UWS</text>
<line x1="1115.6" y1="1931.4" x2="1129.8" y2="1931.4" stroke="#111" stroke-width="2"/>
<text x="1099.1" y="1947.8" text-anchor="end" class="lab">MCS</text>
<text x="1237.4" y="2074.8" text-anchor="middle" class="lab">VS/UWS</text>
<text x="1436.9" y="2074.8" text-anchor="middle" class="lab">MCS</text>
<text x="1321.0" y="1611.7" text-anchor="middle" class="ttl">CFBNN Fold 3</text>
<text transform="translate(945.9,1834.2) rotate(-90)" text-anchor="middle" class="rc">Real classifier</text>
<text x="1342.6" y="2125.0" text-anchor="middle" class="st"><tspan font-weight="bold">AUC</tspan>= 0.766 (0.511, 0.929)</text>
<text x="1342.6" y="2179.1" text-anchor="middle" class="st"><tspan font-weight="bold">Accuracy</tspan> = 77.78% (52.36%, 93.59%)</text>
<text x="1342.6" y="2233.2" text-anchor="middle" class="st"><tspan font-weight="bold">Sensitivity</tspan> = 81.82% (48.22%, 97.72%)</text>
<text x="1342.6" y="2285.7" text-anchor="middle" class="st"><tspan font-weight="bold">Specificity</tspan> = 71.43% (29.04%, 96.33%)</text>
</svg>
</body></html>
